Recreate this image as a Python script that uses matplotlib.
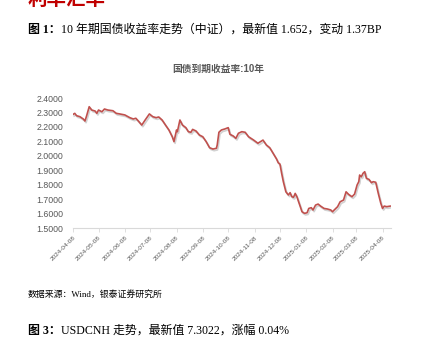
import matplotlib
matplotlib.use("Agg")
import matplotlib.pyplot as plt
import matplotlib.dates as mdates
import matplotlib.patheffects as pe
import pandas as pd

# 10年期国债到期收益率（中证）
dates = [
    "2024-04-08", "2024-04-10", "2024-04-12", "2024-04-16", "2024-04-20", "2024-04-22",
    "2024-04-24", "2024-04-27", "2024-04-30", "2024-05-04", "2024-05-06", "2024-05-08",
    "2024-05-12", "2024-05-15", "2024-05-19", "2024-05-25", "2024-05-29", "2024-06-02",
    "2024-06-08", "2024-06-14", "2024-06-18", "2024-06-21", "2024-06-24", "2024-06-28",
    "2024-07-02", "2024-07-07", "2024-07-11", "2024-07-15", "2024-07-18", "2024-07-22",
    "2024-07-26", "2024-07-30", "2024-08-03", "2024-08-05", "2024-08-08", "2024-08-09",
    "2024-08-12", "2024-08-15", "2024-08-19", "2024-08-22", "2024-08-25", "2024-08-27",
    "2024-08-31", "2024-09-04", "2024-09-08", "2024-09-12", "2024-09-16", "2024-09-20",
    "2024-09-24", "2024-09-25", "2024-09-27", "2024-09-30", "2024-10-04", "2024-10-08",
    "2024-10-10", "2024-10-14", "2024-10-17", "2024-10-20", "2024-10-24", "2024-10-28",
    "2024-11-01", "2024-11-07", "2024-11-12", "2024-11-18", "2024-11-22", "2024-11-26",
    "2024-11-30", "2024-12-04", "2024-12-06", "2024-12-08", "2024-12-10", "2024-12-12",
    "2024-12-15", "2024-12-18", "2024-12-20", "2024-12-22", "2024-12-24", "2024-12-26",
    "2024-12-28", "2024-12-30", "2025-01-01", "2025-01-03", "2025-01-06", "2025-01-09",
    "2025-01-11", "2025-01-14", "2025-01-16", "2025-01-19", "2025-01-22", "2025-01-25",
    "2025-01-29", "2025-02-02", "2025-02-06", "2025-02-08", "2025-02-10", "2025-02-14",
    "2025-02-17", "2025-02-21", "2025-02-24", "2025-02-27", "2025-03-03", "2025-03-06",
    "2025-03-09", "2025-03-11", "2025-03-12", "2025-03-14", "2025-03-16", "2025-03-18",
    "2025-03-20", "2025-03-23", "2025-03-26", "2025-03-28", "2025-03-31", "2025-04-03",
    "2025-04-06", "2025-04-08", "2025-04-10", "2025-04-13", "2025-04-17",
]
yields = [
    2.287, 2.294, 2.278, 2.271, 2.255, 2.241,
    2.278, 2.340, 2.317, 2.310, 2.294, 2.317,
    2.305, 2.324, 2.317, 2.312, 2.294, 2.290,
    2.283, 2.264, 2.255, 2.260, 2.241, 2.213,
    2.248, 2.290, 2.271, 2.264, 2.269, 2.248,
    2.213, 2.179, 2.132, 2.098, 2.179, 2.167,
    2.248, 2.213, 2.195, 2.167, 2.163, 2.183,
    2.172, 2.144, 2.132, 2.098, 2.056, 2.047,
    2.052, 2.075, 2.163, 2.179, 2.186, 2.195,
    2.149, 2.137, 2.121, 2.156, 2.167, 2.163,
    2.132, 2.109, 2.087, 2.109, 2.075, 2.056,
    2.017, 1.978, 1.952, 1.943, 1.879, 1.821,
    1.751, 1.729, 1.745, 1.717, 1.713, 1.740,
    1.717, 1.682, 1.648, 1.613, 1.602, 1.606,
    1.636, 1.641, 1.625, 1.659, 1.666, 1.652,
    1.636, 1.632, 1.625, 1.613, 1.625, 1.648,
    1.682, 1.694, 1.751, 1.733, 1.717, 1.735,
    1.798, 1.821, 1.867, 1.855, 1.879, 1.890,
    1.844, 1.837, 1.814, 1.821, 1.817, 1.740,
    1.671, 1.636, 1.652, 1.648, 1.652,
]
tick_dates = pd.date_range("2024-04-08", periods=13, freq=pd.DateOffset(months=1))
y_ticks = [1.5, 1.6, 1.7, 1.8, 1.9, 2.0, 2.1, 2.2, 2.3, 2.4]

serif_cjk = ["Liberation Serif", "Noto Sans CJK SC"]
gray = "#595959"

fig = plt.figure(figsize=(4.25, 3.44), dpi=100)
ax = fig.add_axes([0.172, 0.337, 0.748, 0.378])

x = pd.to_datetime(dates)
ax.plot(x, yields, color="#C0504D", lw=1.2, solid_joinstyle="round",
        path_effects=[pe.SimpleLineShadow(offset=(0.8, -1.2), shadow_color="#7f7f7f", alpha=0.35),
                      pe.Normal()])

ax.set_ylim(1.5, 2.4)
ax.set_yticks(y_ticks)
ax.set_yticklabels([f"{v:.4f}" for v in y_ticks], fontsize=6.3, color=gray,
                   family="Liberation Sans")
ax.set_xlim(pd.Timestamp("2024-04-08"), pd.Timestamp("2025-04-18"))
ax.set_xticks(tick_dates)
ax.xaxis.set_major_formatter(mdates.DateFormatter("%Y-%m-%d"))
for lab in ax.get_xticklabels():
    lab.set_rotation(45)
    lab.set_ha("right")
    lab.set_rotation_mode("anchor")
    lab.set_fontsize(4.6)
    lab.set_color(gray)
    lab.set_family("Liberation Sans")

for s in ["top", "right", "left"]:
    ax.spines[s].set_visible(False)
ax.spines["bottom"].set_color("#D9D9D9")
ax.spines["bottom"].set_linewidth(0.8)
ax.tick_params(axis="y", length=0, pad=7)
ax.tick_params(axis="x", length=3, width=0.6, color="#D9D9D9", pad=2)

fig.text(218 / 425, 1 - 69 / 344, "国债到期收益率:10年", ha="center", va="center",
         fontsize=7, color=gray, fontweight="bold", family=["Liberation Sans", "Noto Sans CJK SC"])

# 页眉与图注
fig.text(28 / 425, 1 - 5 / 344, "利率汇率", ha="left", va="baseline", fontsize=14,
         color="#C00000", fontweight="bold", family="Noto Sans CJK SC")
fig.text(28 / 425, 1 - 30 / 344, "图 1：", ha="left", va="center", fontsize=8.6,
         fontweight="bold", family=serif_cjk)
fig.text(61 / 425, 1 - 30 / 344, "10 年期国债收益率走势（中证），最新值 1.652，变动 1.37BP",
         ha="left", va="center", fontsize=8.6, family=serif_cjk)
fig.text(28 / 425, 1 - 294 / 344, "数据来源：Wind，银泰证券研究所", ha="left", va="center",
         fontsize=6.4, family=serif_cjk)
fig.text(28 / 425, 1 - 331 / 344, "图 3：", ha="left", va="center", fontsize=8.6,
         fontweight="bold", family=serif_cjk)
fig.text(61 / 425, 1 - 331 / 344, "USDCNH 走势，最新值 7.3022，涨幅 0.04%",
         ha="left", va="center", fontsize=8.6, family=serif_cjk)

fig.savefig("out.png", dpi=100)
